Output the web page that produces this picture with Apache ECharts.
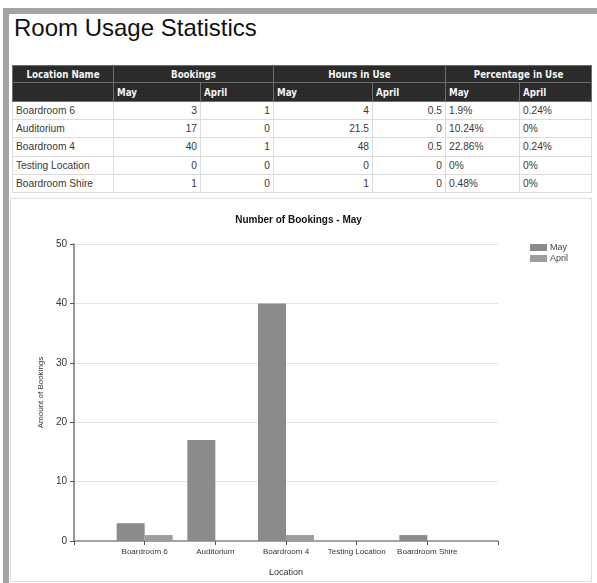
<!DOCTYPE html>
<html>
<head>
<meta charset="utf-8">
<script src="https://cdn.jsdelivr.net/npm/echarts@6/dist/echarts.min.js"></script>
<style>
  html, body { margin: 0; padding: 0; width: 597px; height: 583px; overflow: hidden; background: #fff; font-family: "Liberation Sans", Arial, sans-serif; }
  #leftbar { position: absolute; left: 3px; top: 8px; width: 6px; height: 575px; background: #a4a4a4; }
  #topbar { position: absolute; left: 3px; top: 8px; width: 594px; height: 6px; background: #a4a4a4; }
  #title { position: absolute; left: 14px; top: 14px; font-size: 24px; color: #111; white-space: nowrap; }
  #tbl { position: absolute; left: 12px; top: 65px; border-collapse: collapse; table-layout: fixed; width: 579px; }
  #tbl td, #tbl th { padding: 0 3px; box-sizing: border-box; overflow: hidden; white-space: nowrap; }
  #tbl th { background: #2b2b2b; color: #f4f4f4; font-family: "DejaVu Sans Condensed", "Liberation Sans Narrow", Arial, sans-serif; font-weight: bold; font-size: 9.7px; border: 1px solid #6e6e6e; }
  #tbl tr.h1 th { height: 17px; text-align: center; }
  #tbl tr.h2 th { height: 19px; text-align: left; }
  #tbl td { height: 18.2px; font-size: 10.2px; color: #383838; border: 1px solid #dcdcdc; }
  #tbl td.r { text-align: right; }
  #panel { position: absolute; left: 10px; top: 198px; width: 582px; height: 384px; border: 1px solid #dedede; box-sizing: border-box; }
  #chart { position: absolute; left: 0; top: 198px; width: 597px; height: 385px; }
</style>
</head>
<body>
<div id="leftbar"></div>
<div id="topbar"></div>
<div id="title">Room Usage Statistics</div>
<table id="tbl">
  <colgroup id="cols"></colgroup>
  <thead id="thead"></thead>
  <tbody id="tbody"></tbody>
</table>
<div id="panel"></div>
<div id="chart"></div>
<script>
// ---- data ----
var pageTitle = 'Room Usage Statistics';
var chartTitle = 'Number of Bookings - May';
var locations = ['Boardroom 6', 'Auditorium', 'Boardroom 4', 'Testing Location', 'Boardroom Shire'];
var bookingsMay = [3, 17, 40, 0, 1];
var bookingsApril = [1, 0, 1, 0, 0];
var hoursMay = ['4', '21.5', '48', '0', '1'];
var hoursApril = ['0.5', '0', '0.5', '0', '0'];
var pctMay = ['1.9%', '10.24%', '22.86%', '0%', '0.48%'];
var pctApril = ['0.24%', '0%', '0.24%', '0%', '0%'];
var groupHeaders = ['Location Name', 'Bookings', 'Hours in Use', 'Percentage in Use'];
var monthHeaders = ['May', 'April'];
var seriesNames = ['May', 'April'];
var yTicks = [0, 10, 20, 30, 40, 50];
var yAxisName = 'Amount of Bookings';
var xAxisName = 'Location';

// ---- table ----
var colWidths = [101, 87, 73, 99, 73, 74, 72];
var cg = document.getElementById('cols');
colWidths.forEach(function (w) { var c = document.createElement('col'); c.style.width = w + 'px'; cg.appendChild(c); });
var thead = document.getElementById('thead');
var h1 = '<tr class="h1"><th>' + groupHeaders[0] + '</th>';
for (var g = 1; g < groupHeaders.length; g++) h1 += '<th colspan="2">' + groupHeaders[g] + '</th>';
h1 += '</tr>';
var h2 = '<tr class="h2"><th></th>';
for (var g2 = 1; g2 < groupHeaders.length; g2++) h2 += '<th>' + monthHeaders[0] + '</th><th>' + monthHeaders[1] + '</th>';
h2 += '</tr>';
thead.innerHTML = h1 + h2;
var tb = '';
for (var i = 0; i < locations.length; i++) {
  tb += '<tr><td>' + locations[i] + '</td>' +
    '<td class="r">' + bookingsMay[i] + '</td><td class="r">' + bookingsApril[i] + '</td>' +
    '<td class="r">' + hoursMay[i] + '</td><td class="r">' + hoursApril[i] + '</td>' +
    '<td>' + pctMay[i] + '</td><td>' + pctApril[i] + '</td></tr>';
}
document.getElementById('tbody').innerHTML = tb;
document.getElementById('title').textContent = pageTitle;

// ---- chart ----
var axisCats = [''].concat(locations, [' ']);
var mayData = [null].concat(bookingsMay, [null]);
var aprData = [null].concat(bookingsApril, [null]);

var chart = echarts.init(document.getElementById('chart'), null, { renderer: 'canvas' });
chart.setOption({
  animation: false,
  backgroundColor: 'transparent',
  title: {
    text: chartTitle, left: 'center', top: 12,
    textStyle: { fontSize: 10, fontWeight: 'bold', color: '#111', fontFamily: 'Liberation Sans' }
  },
  legend: {
    orient: 'vertical', left: 525, top: 40,
    itemWidth: 17, itemHeight: 7, itemGap: 2,
    icon: 'rect',
    textStyle: { fontSize: 9, color: '#444', lineHeight: 9, padding: [0, 0, 0, -2], fontFamily: 'Liberation Sans' },
    data: seriesNames
  },
  grid: { left: 74, right: 99, top: 46, bottom: 42, containLabel: false },
  xAxis: {
    type: 'category', data: axisCats, boundaryGap: false,
    name: xAxisName, nameLocation: 'middle', nameGap: 27,
    nameTextStyle: { fontSize: 9, color: '#333', fontFamily: 'Liberation Sans' },
    axisLine: { lineStyle: { color: '#8a8a8a', width: 1.5 } },
    axisTick: { show: true, interval: 0, length: 4, lineStyle: { color: '#555' } },
    axisLabel: { interval: 0, fontSize: 8, color: '#333', margin: 7, fontFamily: 'Liberation Sans' },
    splitLine: { show: false }
  },
  yAxis: {
    type: 'value', min: yTicks[0], max: yTicks[yTicks.length - 1], interval: yTicks[1] - yTicks[0],
    name: yAxisName, nameLocation: 'middle', nameGap: 28, nameRotate: 90,
    nameTextStyle: { fontSize: 8, color: '#333', fontFamily: 'Liberation Sans' },
    axisLine: { show: true, lineStyle: { color: '#777', width: 1.5 } },
    axisTick: { show: true, length: 4, lineStyle: { color: '#555' } },
    axisLabel: { fontSize: 10, color: '#333', margin: 7, fontFamily: 'Liberation Sans' },
    splitLine: { lineStyle: { color: '#e4e4e4', width: 1 } }
  },
  series: [
    { name: seriesNames[0], type: 'bar', data: mayData, barWidth: 28, barGap: '0%',
      itemStyle: { color: '#8b8b8b' } },
    { name: seriesNames[1], type: 'bar', data: aprData, barWidth: 28, barGap: '0%',
      itemStyle: { color: '#9d9d9d' } }
  ]
});
</script>
</body>
</html>
